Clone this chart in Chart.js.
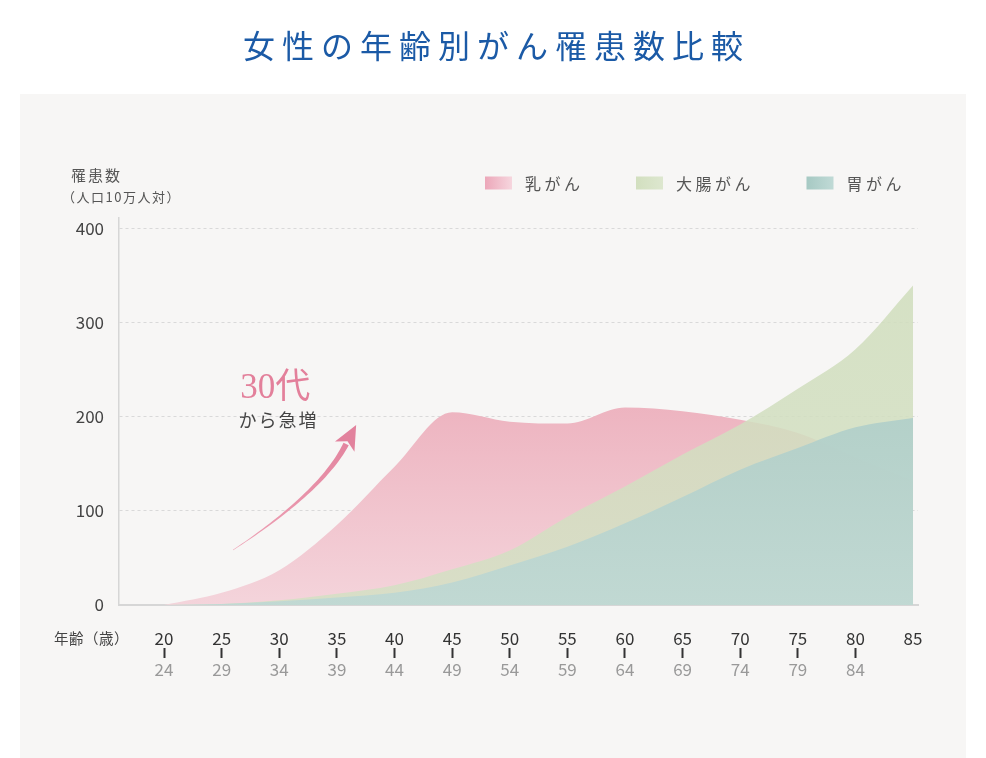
<!DOCTYPE html>
<html><head><meta charset="utf-8">
<script src="https://cdn.jsdelivr.net/npm/chart.js@4"></script>
<style>html,body{margin:0;padding:0;background:#fff}#wrap{width:986px;height:758px;position:relative}</style>
</head><body><div id="wrap"><canvas id="c"></canvas></div>
<script>
// ---- data ----
const ageStarts = [20,25,30,35,40,45,50,55,60,65,70,75,80,85];
const ageEnds = ['24','29','34','39','44','49','54','59','64','69','74','79','84',''];
const seriesNames = ['乳がん','大腸がん','胃がん'];
const breastCancer = [0,13,37,85,147,205,195,193,210,206,197,183,157,132];
const colorectalCancer = [0,1,5,12,21,38,58,94,126,160,192,230,272,340];
const stomachCancer = [0,1,4,8,13,24,42,62,87,115,144,167,189,199];
const yTicks = [0,100,200,300,400];
const chartTitle = '女性の年齢別がん罹患数比較';
const yTitle = ['罹患数','（人口10万人対）'];
const xTitle = '年齢（歳）';
const noteBig = '30代';
const noteSmall = 'から急増';

const FONT = '"Noto Sans CJK JP", "Noto Sans", sans-serif';
const X_MIN = 16.09, X_MAX = 85.43, Y_MAX = 411.7;

function vGrad(chart, c0, c1){
  const a = chart.chartArea;
  if(!a) return c0;
  const g = chart.ctx.createLinearGradient(0, a.top, 0, a.bottom);
  g.addColorStop(0, c0); g.addColorStop(1, c1);
  return g;
}
const pts = arr => ageStarts.map((a,i)=>({x:a, y:arr[i]}));
const setTicks = vals => axis => { axis.ticks = vals.map(v=>({value:v})); };

const legendSwatches = [
  ['#eca7b9','#f6d6de'],
  ['#d2dfbf','#dde7cf'],
  ['#a6c9c3','#c0dad6']
];

function drawArrow(ctx, p0, p1, p2, tip){
  const N = 40, L1 = [], R1 = [];
  for(let i=0;i<=N;i++){
    const t=i/N;
    const x=(1-t)*(1-t)*p0.x+2*(1-t)*t*p1.x+t*t*p2.x;
    const y=(1-t)*(1-t)*p0.y+2*(1-t)*t*p1.y+t*t*p2.y;
    const dx=2*(1-t)*(p1.x-p0.x)+2*t*(p2.x-p1.x);
    const dy=2*(1-t)*(p1.y-p0.y)+2*t*(p2.y-p1.y);
    const L=Math.hypot(dx,dy)||1, nx=-dy/L, ny=dx/L, w=0.2+2.7*t;
    L1.push([x+nx*w,y+ny*w]); R1.push([x-nx*w,y-ny*w]);
  }
  const g = ctx.createLinearGradient(p0.x,p0.y,tip.x,tip.y);
  g.addColorStop(0,'#eea3b6'); g.addColorStop(1,'#e2829d');
  ctx.fillStyle = g;
  ctx.beginPath();
  L1.forEach((p,i)=> i?ctx.lineTo(p[0],p[1]):ctx.moveTo(p[0],p[1]));
  R1.reverse().forEach(p=>ctx.lineTo(p[0],p[1]));
  ctx.closePath(); ctx.fill();
  const dx=tip.x-p2.x, dy=tip.y-p2.y, L=Math.hypot(dx,dy), ux=dx/L, uy=dy/L, nx=-uy, ny=ux;
  const bx=p2.x-ux*3, by=p2.y-uy*3;
  ctx.fillStyle='#e2829d';
  ctx.beginPath();
  ctx.moveTo(tip.x,tip.y);
  ctx.lineTo(bx+nx*11, by+ny*11);
  ctx.lineTo(p2.x+ux*3, p2.y+uy*3);
  ctx.lineTo(bx-nx*11, by-ny*11);
  ctx.closePath(); ctx.fill();
}

const deco = {
  id:'deco',
  afterInit(chart){
    const tb = chart.titleBlock;
    if(tb){
      const orig = tb.draw.bind(tb);
      tb.draw = function(a){
        const c = chart.ctx; c.save();
        try{ c.letterSpacing='7px'; }catch(e){}
        c.translate(chart.width/2 - (tb.left + tb.right)/2 + 3.5, 0);
        orig(a);
        try{ c.letterSpacing='0px'; }catch(e){}
        c.restore();
      };
    }
  },
  beforeDraw(chart){
    const {ctx,width,height} = chart;
    ctx.save();
    ctx.fillStyle='#ffffff'; ctx.fillRect(0,0,width,height);
    ctx.fillStyle='#f7f6f5'; ctx.fillRect(20,94,946,height-94);
    ctx.restore();
  },
  afterDraw(chart){
    const ctx = chart.ctx, xs = chart.scales.x, ys = chart.scales.y;
    const px = v => xs.getPixelForValue(v), py = v => ys.getPixelForValue(v);
    ctx.save();
    // legend
    ctx.font = '16px ' + FONT;
    try{ ctx.letterSpacing='3.5px'; }catch(e){}
    ctx.textBaseline='middle'; ctx.textAlign='left';
    let x = 485; const ly = 183;
    seriesNames.forEach((name,i)=>{
      const g = ctx.createLinearGradient(x,0,x+27,0);
      g.addColorStop(0, legendSwatches[i][0]); g.addColorStop(1, legendSwatches[i][1]);
      ctx.fillStyle = g; ctx.fillRect(x, ly-6.5, 27, 13);
      ctx.fillStyle = '#555';
      ctx.fillText(name, x+40, ly+1);
      x += 40 + ctx.measureText(name).width - 3.5 + 56;
    });
    // y title
    ctx.fillStyle='#555';
    ctx.font='15px ' + FONT;
    try{ ctx.letterSpacing='2px'; }catch(e){}
    ctx.fillText(yTitle[0], 71, 175);
    ctx.font='13px ' + FONT;
    try{ ctx.letterSpacing='1.5px'; }catch(e){}
    ctx.fillText(yTitle[1], 62, 197);
    // x title
    ctx.font='14.5px ' + FONT;
    try{ ctx.letterSpacing='0.5px'; }catch(e){}
    ctx.fillStyle='#444';
    ctx.fillText(xTitle, 54, 638);
    // annotation
    ctx.textAlign='center';
    ctx.textBaseline='alphabetic';
    ctx.font='35px "Liberation Serif", "DejaVu Serif", ' + FONT;
    try{ ctx.letterSpacing='0px'; }catch(e){}
    ctx.fillStyle='#e3809b';
    ctx.fillText(noteBig, px(29.64), py(220.2));
    ctx.font='18px ' + FONT;
    try{ ctx.letterSpacing='2px'; }catch(e){}
    ctx.fillStyle='#444';
    ctx.textBaseline='middle';
    ctx.fillText(noteSmall, px(29.85)+1, py(196.8));
    try{ ctx.letterSpacing='0px'; }catch(e){}
    drawArrow(ctx,
      {x:px(25.99), y:py(58.5)},
      {x:px(33.76), y:py(121.3)},
      {x:px(35.80), y:py(171.3)},
      {x:px(36.67), y:py(191.5)});
    ctx.restore();
  }
};

new Chart(document.getElementById('c'), {
  type:'line',
  data:{
    datasets:[
      { label:seriesNames[0], data:pts(breastCancer), order:3,
        backgroundColor: c => vGrad(c.chart,'#e795a6','#f4d4db') },
      { label:seriesNames[1], data:pts(colorectalCancer), order:2,
        backgroundColor: c => vGrad(c.chart,'rgba(207,221,187,0.86)','rgba(212,224,196,0.86)') },
      { label:seriesNames[2], data:pts(stomachCancer), order:1,
        backgroundColor: c => vGrad(c.chart,'rgba(160,196,190,0.88)','rgba(190,216,212,0.9)') }
    ]
  },
  options:{
    responsive:true, maintainAspectRatio:false, animation:false, events:[],
    datasets:{ line:{ fill:'origin', borderWidth:0, pointRadius:0, tension:0.4, cubicInterpolationMode:'monotone' } },
    layout:{ padding:{ left:20, right:68, top:0, bottom:77 } },
    plugins:{
      legend:{ display:false },
      tooltip:{ enabled:false },
      title:{ display:true, text:chartTitle, color:'#1b5aa6',
        font:{ family:FONT, size:32, weight:'normal', lineHeight:1.2 },
        padding:{ top:27, bottom:152.6 } }
    },
    scales:{
      x:{ type:'linear', position:'bottom', min:X_MIN, max:X_MAX, weight:0,
        afterBuildTicks:setTicks(ageStarts),
        afterFit: a => { a.height = 43; a.paddingLeft = 0; a.paddingRight = 0; },
        grid:{ display:false, drawTicks:false },
        border:{ display:true, color:'#d6d6d6', width:2 },
        ticks:{ color:'#333', font:{ family:FONT, size:17 }, padding:23, maxRotation:0, autoSkip:false,
          callback:(v,i)=> String(ageStarts[i]) } },
      x2:{ type:'linear', position:'bottom', min:X_MIN, max:X_MAX, weight:1,
        afterBuildTicks:setTicks(ageStarts),
        afterFit: a => { a.height = 33; a.paddingLeft = 0; a.paddingRight = 0; },
        grid:{ display:true, drawOnChartArea:false, drawTicks:true, tickLength:10, tickWidth:2,
          tickColor: c => c.index === ageStarts.length-1 ? 'rgba(0,0,0,0)' : '#333' },
        border:{ display:false },
        ticks:{ color:'#999', font:{ family:FONT, size:17 }, padding:1, maxRotation:0, autoSkip:false,
          callback:(v,i)=> ageEnds[i] } },
      y:{ type:'linear', position:'left', min:0, max:Y_MAX,
        afterBuildTicks:setTicks(yTicks),
        afterFit: a => { a.width = 99; a.paddingTop = 0; a.paddingBottom = 0; },
        grid:{ drawTicks:false, color: c => c.tick && c.tick.value === 0 ? 'rgba(0,0,0,0)' : '#d9d9d9', lineWidth:1 },
        border:{ display:true, color:'#d6d6d6', width:1.5, dash:[3,3] },
        ticks:{ color:'#444', font:{ family:FONT, size:17 }, padding:15 } }
    }
  },
  plugins:[deco]
});
</script>
</body></html>
